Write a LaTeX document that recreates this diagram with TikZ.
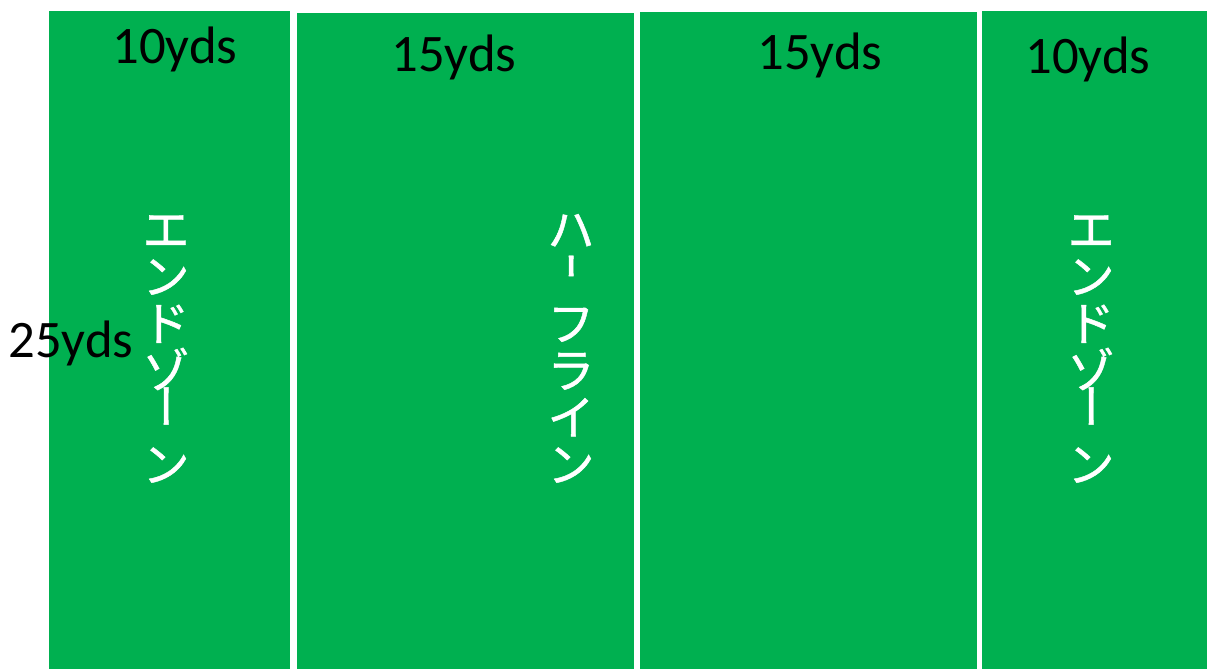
\documentclass[tikz,border=0pt]{standalone}
\usepackage{fontspec}
\setmainfont{Carlito}
\newfontfamily\jafont[FakeBold=1]{Noto Sans CJK JP}
\usetikzlibrary{positioning}
\definecolor{fieldgreen}{HTML}{00B050}

\begin{document}
\begin{tikzpicture}[x=0.02cm, y=-0.02cm,
  yds/.style={anchor=base, inner sep=0pt, font=\fontsize{30}{31}\selectfont},
  kana/.style={inner sep=0pt, text=white, text height=23.5pt, text depth=3.2pt, font=\jafont\fontsize{26.7}{28}\selectfont},
  bar/.style={kana, rotate=-90}]
\useasboundingbox (0,0) rectangle (1207,669);
% field zones
\fill[fieldgreen] (49,11) rectangle (290,669);
\fill[fieldgreen] (297,13) rectangle (634,669);
\fill[fieldgreen] (640,12) rectangle (977,669);
\fill[fieldgreen] (982,11) rectangle (1207,669);
% widths
\node[yds] (w1) at (175,64) {10yds};
\node[yds] (w2) at (454,72) {15yds};
\node[yds] (w3) at (820,70) {15yds};
\node[yds] (w4) at (1088,74) {10yds};
\node[yds] (len) at (71,357) {25yds};
% end zones
\foreach \x/\side in {166/l, 1091/r}{
  \node[kana] (ez-\side-1) at (\x,229) {エ};
  \node[kana] (ez-\side-2) at (\x,276) {ン};
  \node[kana] (ez-\side-3) at (\x,323) {ド};
  \node[kana] (ez-\side-4) at (\x,370) {ゾ};
  \node[bar] (ez-\side-5) at (\x,406) {ー};
  \node[kana] (ez-\side-6) at (\x,464) {ン};
}
% half line
\node[kana] (hl-1) at (571,229) {ハ};
\node[bar] (hl-2) at (571,266) {\scalebox{0.55}[1]{ー}};
\node[kana] (hl-3) at (571,323) {フ};
\node[kana] (hl-4) at (571,370) {ラ};
\node[kana] (hl-5) at (571,417) {イ};
\node[kana] (hl-6) at (571,464) {ン};
\end{tikzpicture}
\end{document}
